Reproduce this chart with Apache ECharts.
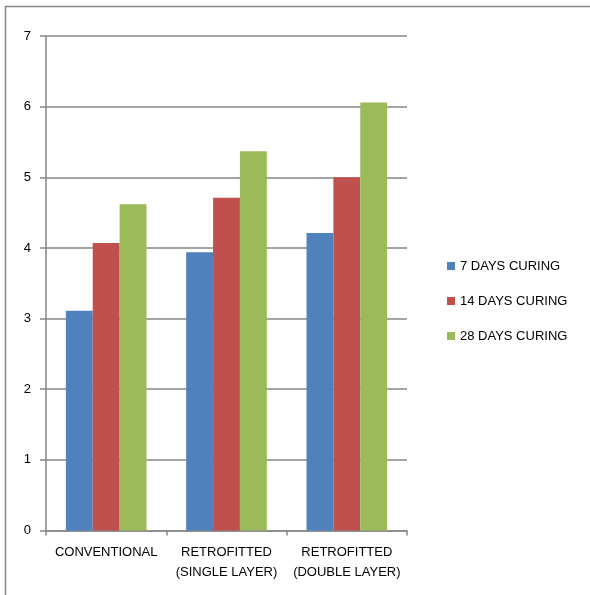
<!DOCTYPE html>
<html>
<head>
    <meta charset="UTF-8">
    <title>Curing chart</title>
    <script src="https://cdn.jsdelivr.net/npm/echarts@6/dist/echarts.min.js"></script>
    <style>
        html, body { margin: 0; padding: 0; background: #fff; }
        #chart { width: 590px; height: 595px; }
    </style>
</head>
<body>
<div id="chart"></div>
<script>
    var categories = ['CONVENTIONAL', 'RETROFITTED\n(SINGLE LAYER)', 'RETROFITTED\n(DOUBLE LAYER)'];
    var seriesNames = ['7 DAYS CURING', '14 DAYS CURING', '28 DAYS CURING'];
    var days7 = [3.11, 3.94, 4.21];
    var days14 = [4.07, 4.71, 5.00];
    var days28 = [4.62, 5.37, 6.06];
    var yTicks = [0, 1, 2, 3, 4, 5, 6, 7];

    var colors = ['#4F81BD', '#C0504D', '#9BBB59'];
    var font = '"Liberation Sans", Arial, sans-serif';
    var gray = '#868686';

    var chart = echarts.init(document.getElementById('chart'));

    function bar(name, data, i) {
        return {
            name: name,
            type: 'bar',
            data: data,
            barGap: '0%',
            barCategoryGap: '33%',
            itemStyle: { color: colors[i] }
        };
    }

    var option = {
        animation: false,
        color: colors,
        textStyle: { fontFamily: font },
        graphic: [{
            type: 'rect',
            shape: { x: 5.5, y: 6.5, width: 700, height: 700 },
            style: { fill: 'none', stroke: gray, lineWidth: 1.5 },
            silent: true
        }],
        legend: {
            orient: 'vertical',
            left: 447,
            top: 259,
            padding: 0,
            itemWidth: 8,
            itemHeight: 8,
            itemGap: 21,
            icon: 'rect',
            data: seriesNames,
            textStyle: { fontFamily: font, fontSize: 13, color: '#000', lineHeight: 14 }
        },
        grid: { left: 46, top: 36, right: 183, bottom: 64.5 },
        xAxis: {
            type: 'category',
            data: categories,
            axisLine: { lineStyle: { color: gray, width: 1.5 } },
            axisTick: { show: true, length: 5, lineStyle: { color: gray, width: 1.5 } },
            axisLabel: { color: '#000', fontSize: 13, fontFamily: font, margin: 12, lineHeight: 20, interval: 0 }
        },
        yAxis: {
            type: 'value',
            min: yTicks[0],
            max: yTicks[yTicks.length - 1],
            interval: 1,
            axisLine: { show: true, lineStyle: { color: gray, width: 1.5 } },
            axisTick: { show: true, length: 6, lineStyle: { color: gray, width: 1.5 } },
            axisLabel: { color: '#000', fontSize: 13, fontFamily: font, margin: 15 },
            splitLine: { show: true, lineStyle: { color: gray, width: 1.5 } }
        },
        series: [
            bar(seriesNames[0], days7, 0),
            bar(seriesNames[1], days14, 1),
            bar(seriesNames[2], days28, 2)
        ]
    };

    chart.setOption(option);
</script>
</body>
</html>
